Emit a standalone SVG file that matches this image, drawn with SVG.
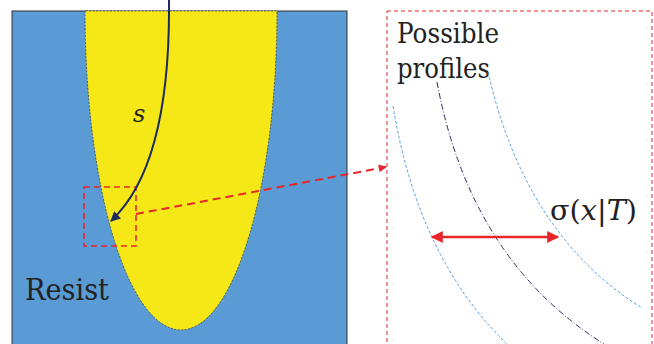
<svg xmlns="http://www.w3.org/2000/svg" width="654" height="344" viewBox="0 0 654 344">
<style>
.serif{font-family:'DejaVu Serif',serif;fill:#222}
.prof{fill:none;stroke:#5B9BD5;stroke-width:1;stroke-dasharray:3 2}
.mid{fill:none;stroke:#2A2F5A;stroke-width:1;stroke-dasharray:6 2 1 2}
.red{stroke:#E8262A;fill:none}
</style>
<defs>
<marker id="navyHead" viewBox="0 0 10 10" refX="9" refY="5" markerWidth="14" markerHeight="10" markerUnits="userSpaceOnUse" orient="auto">
<path d="M0,0 L10,5 L0,10 Z" fill="#1F2A5C"/>
</marker>
<marker id="redHead" viewBox="0 0 10 10" refX="9" refY="5" markerWidth="10" markerHeight="8" markerUnits="userSpaceOnUse" orient="auto">
<path d="M0,0 L10,5 L0,10 Z" fill="#E8262A"/>
</marker>
<marker id="redBig" viewBox="0 0 10 10" refX="9" refY="5" markerWidth="13" markerHeight="12" markerUnits="userSpaceOnUse" orient="auto-start-reverse">
<path d="M0,0 L10,5 L0,10 Z" fill="#E8262A"/>
</marker>
</defs>
<g id="resist-panel">
<rect x="12" y="11" width="335" height="340" fill="#5B9BD5" stroke="#333" stroke-width="1"/>
<path d="M85,11 A96,319 0 0 0 277,11 Z" fill="#F5E816" stroke="#333" stroke-width="0.7" stroke-dasharray="2 1.5"/>
<text class="serif" x="25" y="300" font-size="30" textLength="84" lengthAdjust="spacingAndGlyphs">Resist</text>
</g>
<g id="zoom-box">
<rect x="84" y="187" width="52" height="59" class="red" stroke-width="1.6" stroke-dasharray="6 4"/>
</g>
<g id="profiles-panel">
<rect x="387" y="11" width="265" height="345" class="red" stroke-width="1" stroke-dasharray="4 3"/>
<text class="serif" font-size="28" x="397" y="43" textLength="102" lengthAdjust="spacingAndGlyphs">Possible</text>
<text class="serif" font-size="28" x="397" y="78" textLength="93" lengthAdjust="spacingAndGlyphs">profiles</text>
<path class="prof" d="M393,106 Q418,258 507,344"/>
<path class="mid" d="M437,82 Q470,260 604,344"/>
<path class="prof" d="M488,72 Q525,235 642,308"/>
<text class="serif" x="550" y="220" font-size="28" textLength="87" lengthAdjust="spacingAndGlyphs">σ(<tspan font-style="italic">x</tspan>|<tspan font-style="italic">T</tspan>)</text>
</g>
<g id="connectors">
<path d="M169,0 C170,100 155,180 111,221" fill="none" stroke="#1F2A5C" stroke-width="2" marker-end="url(#navyHead)"/>
<text class="serif" x="133" y="122" font-size="24" font-style="italic">s</text>
<line x1="136" y1="214" x2="386" y2="167" class="red" stroke-width="2" stroke-dasharray="8 5" marker-end="url(#redHead)"/>
<line x1="432" y1="237" x2="558" y2="237" class="red" stroke-width="2.5" marker-start="url(#redBig)" marker-end="url(#redBig)"/>
</g>
</svg>
